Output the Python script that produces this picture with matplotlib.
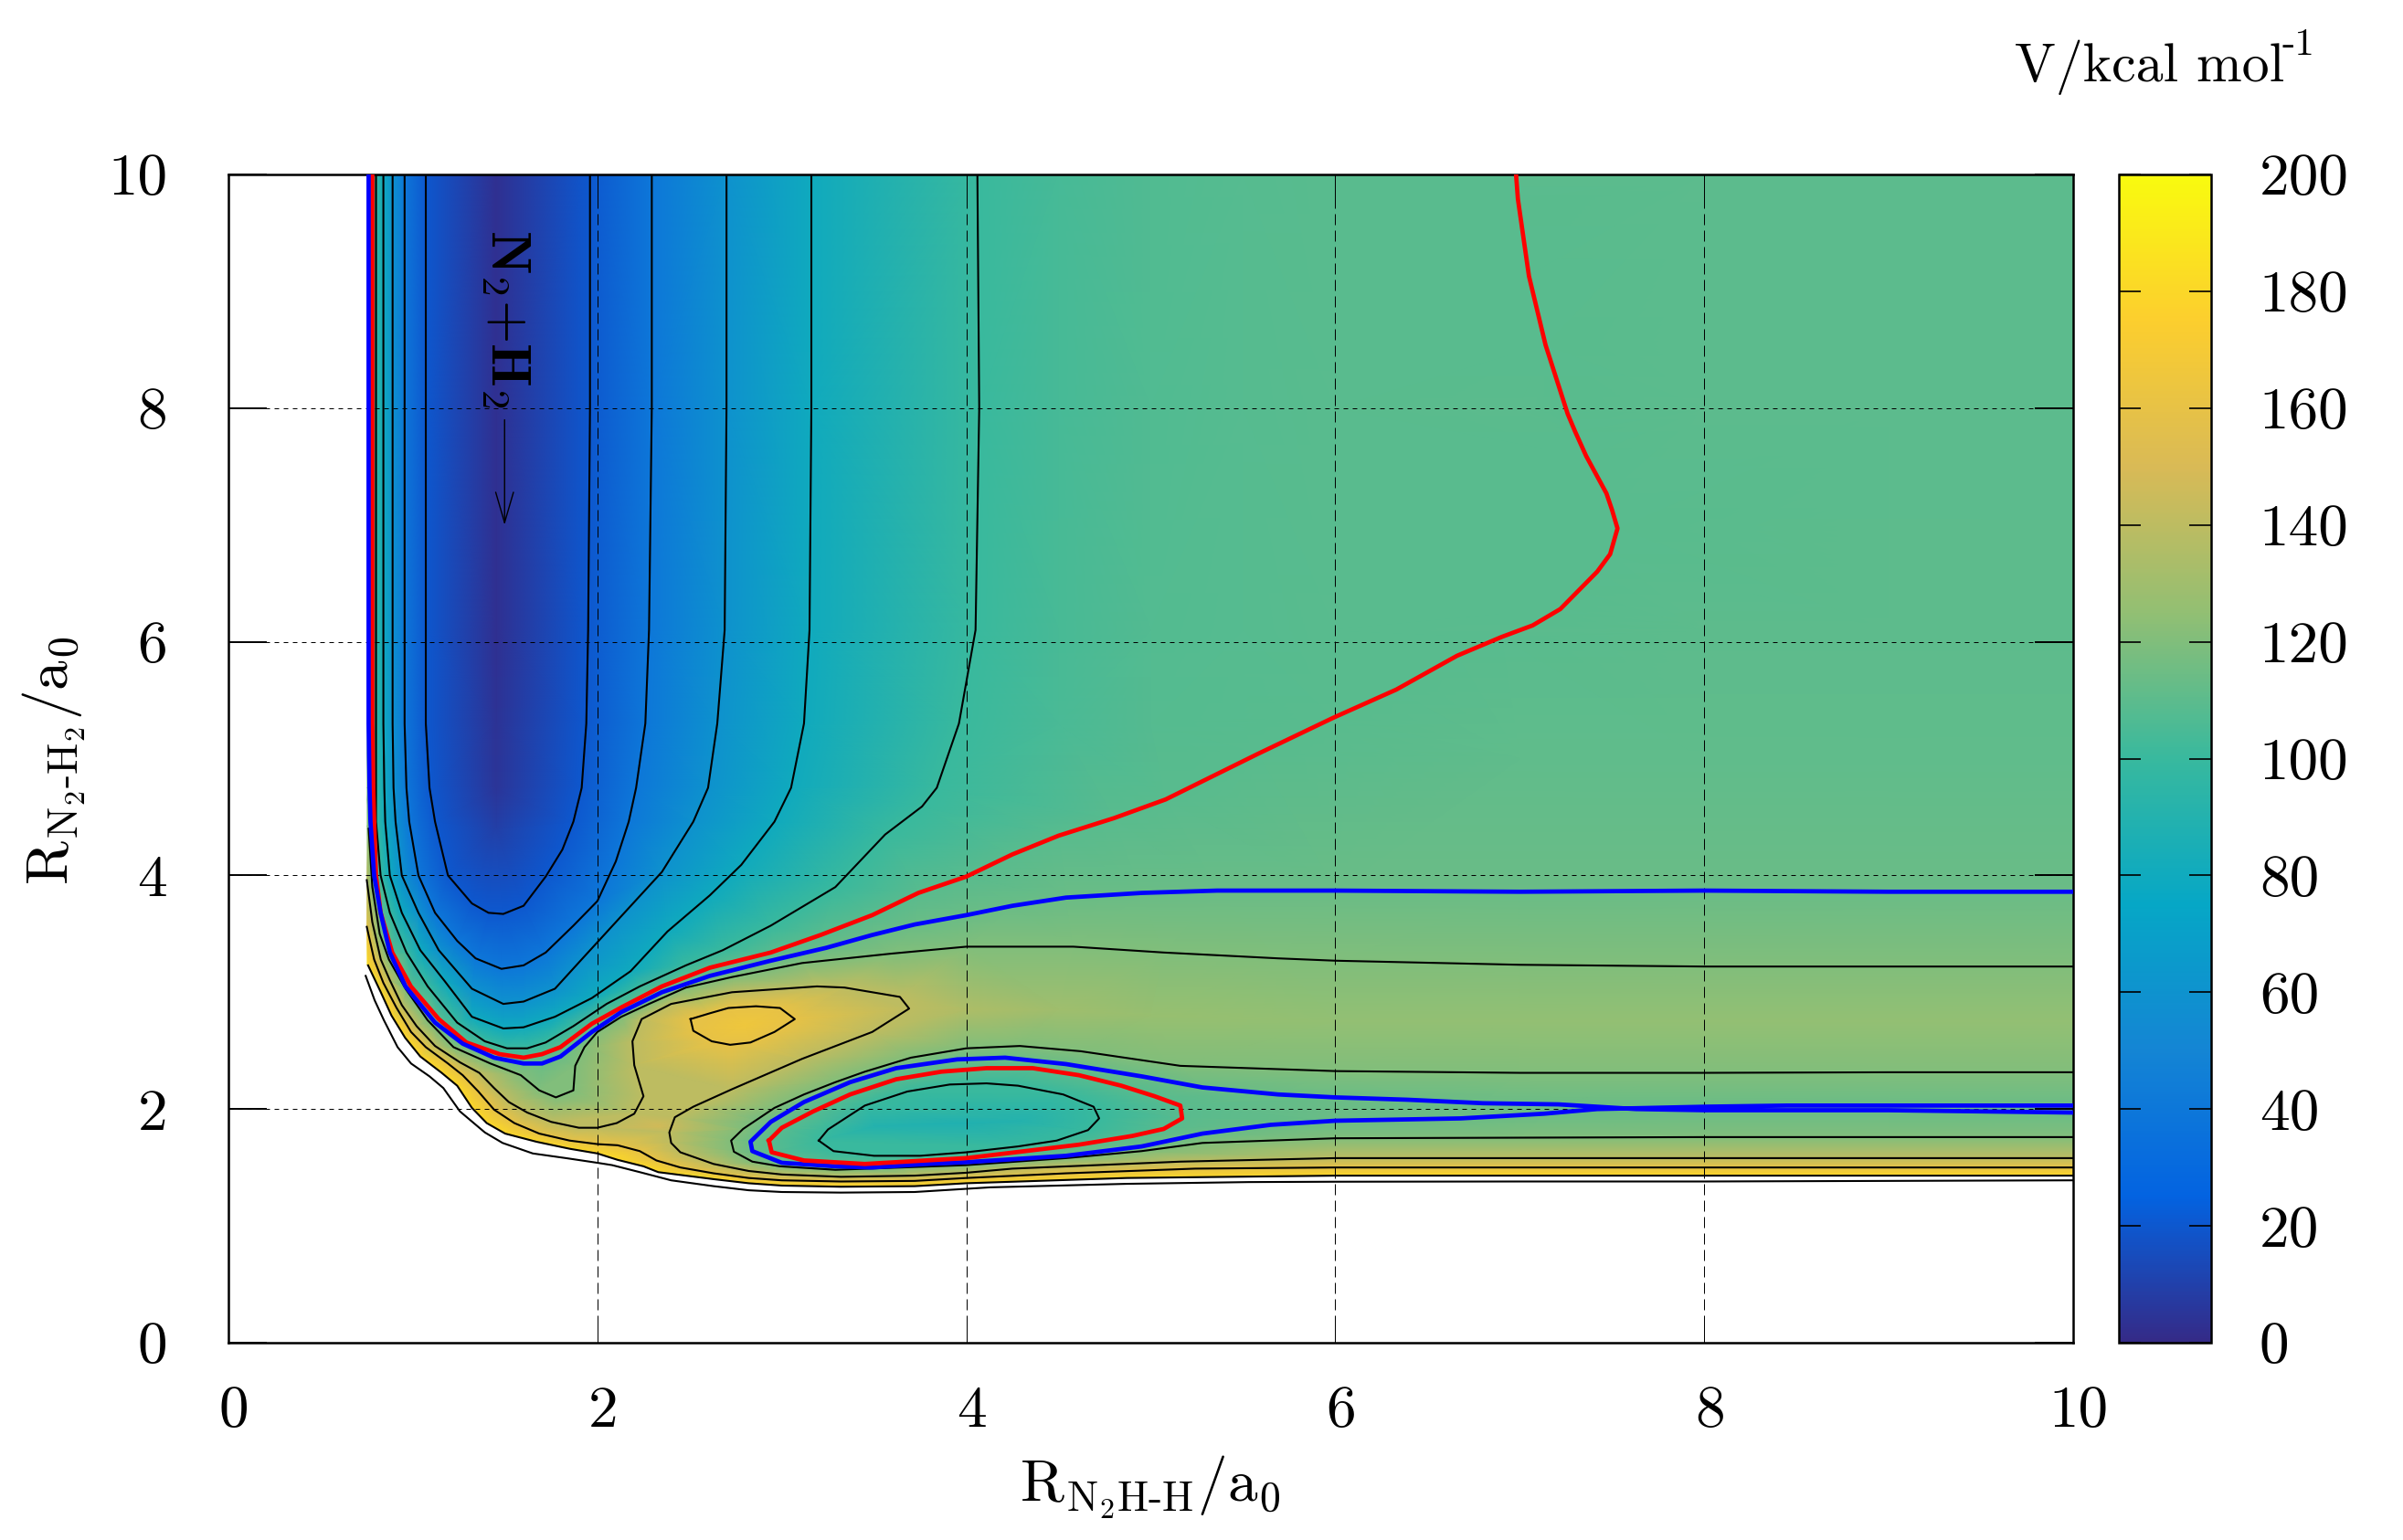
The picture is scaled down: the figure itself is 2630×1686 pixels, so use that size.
import matplotlib
matplotlib.use('Agg')
import matplotlib.pyplot as plt
import matplotlib.tri as mtri
import numpy as np
from matplotlib.colors import LinearSegmentedColormap
from matplotlib.patches import Polygon
from matplotlib.transforms import ScaledTranslation

# gnuplot parula palette
palette = ['#352a87', '#0363e1', '#1485d4', '#06a7c6', '#38b99e',
           '#92bf73', '#d9ba56', '#fcce2e', '#f9fb0e']

axis_ticks = [0, 2, 4, 6, 8, 10]
cbar_ticks = [0, 20, 40, 60, 80, 100, 120, 140, 160, 180, 200]

# contour lines, (R_N2H-H, R_N2-H2)
c20 = [(1.07, 10), (1.07, 8), (1.07, 6.1), (1.07, 5.3), (1.09, 4.75), (1.12, 4.46), (1.19, 4.0), (1.32, 3.76),
       (1.41, 3.68), (1.49, 3.67), (1.60, 3.74), (1.72, 3.99), (1.81, 4.22), (1.87, 4.46),
       (1.915, 4.75), (1.94, 5.3), (1.95, 6.1), (1.96, 8), (1.96, 10)]
c40 = [(0.955, 10), (0.955, 8), (0.955, 6.1), (0.955, 5.3), (0.965, 4.75), (0.98, 4.46), (1.03, 4.0), (1.12, 3.68),
       (1.24, 3.44), (1.34, 3.29), (1.48, 3.20), (1.60, 3.23), (1.72, 3.34), (1.87, 3.57), (2.0, 3.78), (2.10, 4.12),
       (2.17, 4.46), (2.21, 4.75), (2.26, 5.3), (2.28, 6.1), (2.295, 8), (2.295, 10)]
c60 = [(0.89, 10), (0.89, 8), (0.89, 6.1), (0.89, 5.3), (0.895, 4.75), (0.906, 4.46), (0.94, 4.0), (1.03, 3.68),
       (1.14, 3.36), (1.32, 3.03), (1.49, 2.90), (1.60, 2.92), (1.77, 3.03), (1.92, 3.29), (2.10, 3.60), (2.35, 4.03),
       (2.52, 4.46), (2.60, 4.75), (2.65, 5.3), (2.69, 6.1), (2.70, 8), (2.70, 10)]
c80 = [(0.84, 10), (0.84, 8), (0.84, 6.1), (0.84, 5.3), (0.845, 4.75), (0.85, 4.46), (0.875, 4.0), (0.94, 3.68),
       (1.04, 3.36), (1.17, 3.10), (1.32, 2.79), (1.49, 2.69), (1.60, 2.70), (1.77, 2.79), (1.97, 2.95), (2.18, 3.18),
       (2.38, 3.52), (2.61, 3.83), (2.78, 4.09), (2.96, 4.46), (3.05, 4.75), (3.12, 5.3), (3.15, 6.1), (3.16, 8), (3.16, 10)]
c100 = [(0.80, 10), (0.80, 8), (0.80, 6.1), (0.80, 5.3), (0.80, 4.75), (0.80, 4.46), (0.825, 4.0), (0.875, 3.68),
        (0.965, 3.34), (1.08, 3.05), (1.24, 2.74), (1.39, 2.58), (1.51, 2.52), (1.62, 2.52), (1.72, 2.57), (1.87, 2.71),
        (2.05, 2.90), (2.23, 3.05), (2.48, 3.23), (2.68, 3.36), (2.94, 3.57), (3.29, 3.90), (3.56, 4.35),
        (3.76, 4.59), (3.84, 4.75), (3.96, 5.3), (4.05, 6.1), (4.07, 8), (4.06, 10)]
c100_well = [(3.20, 1.73), (3.28, 1.64), (3.50, 1.60), (3.75, 1.60), (4.0, 1.63), (4.28, 1.68), (4.49, 1.73),
             (4.66, 1.82), (4.72, 1.92), (4.69, 2.02), (4.525, 2.125), (4.28, 2.20), (4.11, 2.22), (3.91, 2.21),
             (3.68, 2.15), (3.45, 2.03), (3.25, 1.825), (3.20, 1.73)]
c120 = [(0.76, 4.4), (0.78, 3.9), (0.82, 3.5), (0.87, 3.28), (0.96, 3.03), (1.08, 2.76), (1.22, 2.53),
        (1.42, 2.39), (1.585, 2.29), (1.685, 2.16), (1.775, 2.10), (1.87, 2.16), (1.88, 2.37), (1.93, 2.53),
        (2.0, 2.66), (2.13, 2.79), (2.28, 2.90), (2.48, 3.04), (2.73, 3.13), (3.11, 3.25), (3.59, 3.33),
        (4.0, 3.39), (4.58, 3.39), (5.07, 3.34), (5.69, 3.29), (6.0, 3.27), (7.0, 3.235), (8.0, 3.22), (9.0, 3.22), (10, 3.22)]
c120_low = [(10, 2.315), (9.0, 2.315), (8.0, 2.31), (7.0, 2.31), (6.0, 2.325), (5.16, 2.37), (4.62, 2.495), (4.29, 2.54),
            (4.0, 2.52), (3.70, 2.44), (3.45, 2.32), (3.29, 2.23), (3.12, 2.125), (2.96, 2.01), (2.79, 1.83), (2.725, 1.73),
            (2.74, 1.635), (2.84, 1.55), (2.99, 1.51), (3.29, 1.48), (3.65, 1.50), (4.0, 1.52), (4.54, 1.58),
            (4.95, 1.64), (5.28, 1.71), (6.0, 1.75), (7.0, 1.755), (8.0, 1.76), (9.0, 1.76), (10, 1.76)]
c140 = [(0.75, 3.96), (0.78, 3.6), (0.826, 3.28), (0.876, 3.10), (0.94, 2.89), (1.02, 2.71), (1.12, 2.54),
        (1.255, 2.40), (1.36, 2.31), (1.44, 2.18), (1.52, 2.06), (1.62, 1.97), (1.75, 1.89), (1.90, 1.84),
        (2.0, 1.84), (2.105, 1.88), (2.20, 1.96), (2.25, 2.11), (2.20, 2.375), (2.19, 2.58), (2.24, 2.77),
        (2.40, 2.90), (2.73, 3.0), (3.19, 3.05), (3.34, 3.04), (3.64, 2.96), (3.69, 2.86), (3.49, 2.66),
        (3.11, 2.43), (2.73, 2.17), (2.52, 2.02), (2.42, 1.93), (2.39, 1.80), (2.40, 1.71), (2.45, 1.63),
        (2.63, 1.53), (2.82, 1.47), (3.0, 1.44), (3.32, 1.42), (3.72, 1.43), (4.0, 1.455), (4.25, 1.49),
        (5.16, 1.55), (6.0, 1.58), (7.0, 1.58), (8.0, 1.58), (9.0, 1.58), (10, 1.58)]
c160 = [(0.75, 3.56), (0.79, 3.28), (0.84, 3.08), (0.91, 2.87), (0.99, 2.66), (1.07, 2.53), (1.19, 2.39),
        (1.27, 2.29), (1.355, 2.15), (1.44, 1.995), (1.55, 1.88), (1.685, 1.79), (1.85, 1.73), (2.0, 1.70),
        (2.11, 1.69), (2.23, 1.64), (2.32, 1.56), (2.45, 1.50), (2.63, 1.45), (2.82, 1.41), (3.0, 1.39),
        (3.32, 1.38), (3.72, 1.385), (4.0, 1.41), (4.54, 1.45), (5.24, 1.49), (6.0, 1.50), (7.0, 1.50), (8.0, 1.50),
        (9.0, 1.50), (10, 1.50)]
c160_ridge = [(2.505, 2.77), (2.52, 2.67), (2.62, 2.58), (2.72, 2.55), (2.83, 2.57), (2.96, 2.66), (3.07, 2.77),
              (2.99, 2.865), (2.86, 2.88), (2.71, 2.865), (2.61, 2.82), (2.505, 2.77)]
c180 = [(0.757, 3.23), (0.826, 3.0), (0.884, 2.80), (0.958, 2.61), (1.04, 2.45), (1.156, 2.31), (1.24, 2.20),
        (1.32, 2.01), (1.40, 1.88), (1.50, 1.79), (1.67, 1.72), (1.85, 1.66), (2.0, 1.62), (2.11, 1.565),
        (2.25, 1.51), (2.33, 1.46), (2.63, 1.40), (2.82, 1.365), (3.0, 1.345), (3.32, 1.335), (3.72, 1.34),
        (4.0, 1.365), (4.87, 1.41), (6.0, 1.43), (7.0, 1.43), (8.0, 1.43), (9.0, 1.43), (10, 1.43)]
c200 = [(0.744, 3.14), (0.793, 2.93), (0.843, 2.76), (0.917, 2.53), (0.99, 2.39), (1.09, 2.28), (1.165, 2.18),
        (1.255, 1.98), (1.39, 1.80), (1.486, 1.71), (1.65, 1.62), (1.83, 1.58), (2.0, 1.54), (2.08, 1.52),
        (2.23, 1.46), (2.40, 1.39), (2.63, 1.34), (2.82, 1.305), (3.0, 1.29), (3.32, 1.285), (3.72, 1.29),
        (4.13, 1.33), (4.87, 1.36), (5.53, 1.375), (6.0, 1.378), (7.0, 1.38), (8.0, 1.38), (9.0, 1.385), (10, 1.39)]

red_long = [(0.78, 10), (0.78, 8), (0.78, 6.1), (0.78, 5.3), (0.785, 4.75), (0.79, 4.46), (0.80, 4.0), (0.825, 3.68),
            (0.888, 3.34), (0.989, 3.05), (1.14, 2.77), (1.29, 2.57), (1.47, 2.47), (1.60, 2.44), (1.70, 2.47), (1.80, 2.53),
            (1.97, 2.73), (2.13, 2.87), (2.35, 3.05), (2.61, 3.21), (2.94, 3.34), (3.21, 3.49), (3.49, 3.66),
            (3.74, 3.85), (4.0, 3.99), (4.25, 4.18), (4.5, 4.34), (4.8, 4.49), (5.08, 4.65), (5.58, 5.04), (5.99, 5.35),
            (6.33, 5.59), (6.66, 5.88), (6.9, 6.04), (7.07, 6.14), (7.22, 6.28), (7.32, 6.44), (7.42, 6.6), (7.49, 6.75),
            (7.53, 6.97), (7.5, 7.13), (7.47, 7.27), (7.36, 7.59), (7.3, 7.8), (7.26, 7.95), (7.14, 8.54), (7.05, 9.13),
            (6.99, 9.79), (6.98, 10)]
red_well = [(2.93, 1.73), (2.945, 1.63), (3.12, 1.56), (3.45, 1.53), (4.0, 1.58), (4.61, 1.695), (4.90, 1.77),
            (5.07, 1.83), (5.17, 1.92), (5.16, 2.03), (5.02, 2.11), (4.84, 2.20), (4.61, 2.29), (4.36, 2.35),
            (4.11, 2.35), (3.865, 2.32), (3.62, 2.255), (3.37, 2.125), (3.17, 1.98), (3.0, 1.84), (2.93, 1.73)]
blue_long = [(0.76, 10), (0.76, 8), (0.76, 6.1), (0.76, 5.3), (0.765, 4.75), (0.77, 4.46), (0.79, 4.0), (0.825, 3.68),
             (0.875, 3.34), (0.96, 3.05), (1.12, 2.74), (1.27, 2.56), (1.44, 2.44), (1.60, 2.39), (1.70, 2.39), (1.80, 2.45),
             (1.97, 2.66), (2.13, 2.83), (2.35, 3.0), (2.61, 3.14), (2.94, 3.27), (3.24, 3.38), (3.49, 3.49),
             (3.72, 3.58), (4.0, 3.66), (4.25, 3.74), (4.54, 3.81), (4.95, 3.85), (5.36, 3.87), (6.0, 3.87),
             (7.0, 3.86), (8.0, 3.87), (9.0, 3.86), (10, 3.86)]
blue_well = [(10, 1.97), (9.0, 1.99), (8.45, 1.99), (8.0, 1.99), (7.63, 2.0), (7.21, 2.04), (6.80, 2.05),
             (6.39, 2.08), (6.0, 2.10), (5.69, 2.125), (5.28, 2.185), (4.95, 2.28), (4.54, 2.385), (4.21, 2.44), (3.95, 2.425),
             (3.62, 2.35), (3.37, 2.23), (3.12, 2.06), (2.94, 1.89), (2.83, 1.72), (2.84, 1.64), (3.0, 1.54),
             (3.29, 1.51), (3.49, 1.50), (3.78, 1.53), (4.0, 1.545), (4.54, 1.60), (4.95, 1.68), (5.28, 1.79),
             (5.65, 1.865), (6.0, 1.90), (6.68, 1.92), (7.13, 1.96), (7.42, 2.0), (8.0, 2.02), (8.45, 2.03),
             (9.0, 2.03), (10, 2.03)]

black_lines = [c20, c40, c60, c80, c100, c100_well, c120, c120_low, c140, c160, c160_ridge, c180, c200]
black_levels = [20, 40, 60, 80, 100, 100, 120, 120, 140, 160, 160, 180, 200]
red_level = 109
blue_level = 114

# extra readings of V between the lines (from the colours)
extra_x = [1.45, 1.45, 1.45, 1.45, 1.45, 1.45,
           0.74, 0.74, 0.74, 0.74, 0.74, 0.74,
           4.5, 4.5, 4.5, 4.5, 5, 5, 5, 5, 5.5, 5.5, 5.5, 6, 6, 6,
           7, 7, 7, 7, 8, 8, 8, 8, 9, 9, 9, 9, 10, 10, 10, 10,
           2.8, 4, 4.5, 5, 6, 7, 8, 9, 10,
           2.33, 3.5, 4, 4.3, 0.74, 10]
extra_y = [10, 8, 6.1, 5.3, 4.75, 4.4,
           10, 8, 6.1, 5.3, 4.75, 4.4,
           10, 8, 6.1, 5.3, 10, 8, 6.1, 5.3, 10, 8, 6.1, 10, 8, 6.1,
           10, 8, 6.1, 5, 10, 8, 6.1, 5, 10, 8, 6.1, 5, 10, 8, 6.1, 5,
           2.72, 2.85, 2.85, 2.8, 2.75, 2.75, 2.75, 2.75, 2.75,
           1.85, 1.85, 1.88, 1.9, 1.2, 1.2]
extra_v = [3, 3, 3, 4, 5, 9,
           120, 120, 120, 120, 122, 125,
           104, 104, 104.5, 105, 107, 107, 107.5, 108, 108.5, 108.5, 108.5, 109, 109, 109,
           110, 110, 109.5, 111, 110, 110, 110.5, 111, 110, 110, 110.5, 111, 110, 110, 110.5, 111,
           166, 135, 130, 127, 125, 125, 125, 125, 125,
           148, 90, 88, 90, 200, 200]

plt.rcParams['font.family'] = ['cmr10', 'DejaVu Serif']
plt.rcParams['mathtext.fontset'] = 'cm'
plt.rcParams['axes.formatter.use_mathtext'] = True
plt.rcParams['font.size'] = 47

W, H = 2630, 1686
fig = plt.figure(figsize=(W / 100, H / 100), dpi=100)
ax = fig.add_axes([250 / W, 1 - 1470 / H, 2019 / W, 1279 / H])
cax = fig.add_axes([2319 / W, 1 - 1470 / H, 101 / W, 1279 / H])

# field is spanned by the traced lines and the extra readings
points = {}
for line, level in zip(black_lines + [red_long, red_well, blue_long, blue_well],
                       black_levels + [red_level, red_level, blue_level, blue_level]):
    for p in line:
        points[p] = level
for px, py, pv in zip(extra_x, extra_y, extra_v):
    points[(px, py)] = pv
fx = np.array([p[0] for p in points])
fy = np.array([p[1] for p in points])
fv = np.array(list(points.values()), dtype=float)

# triangles from log space, otherwise the flat bands get long thin ones
triangles = mtri.Triangulation(np.log(fx), np.log(fy - 1)).triangles
tri = mtri.Triangulation(fx, fy, triangles)

cmap = LinearSegmentedColormap.from_list('parula_gp', palette, N=512)
mesh = ax.tripcolor(tri, fv, shading='gouraud', cmap=cmap, vmin=0, vmax=200, zorder=1)
# white above about 180
outline = [(0.75, 10), (10, 10)] + c180[::-1] + [(0.75, 3.23)]
mesh.set_clip_path(Polygon(outline, transform=ax.transData))

for line in black_lines:
    xs, ys = zip(*line)
    ax.plot(xs, ys, color='black', lw=1.5, solid_joinstyle='round', zorder=2)
xs, ys = zip(*red_long)
ax.plot(xs, ys, color='#ff0000', lw=3.4, zorder=3)
for line in [blue_long, blue_well]:
    xs, ys = zip(*line)
    ax.plot(xs, ys, color='#0000ff', lw=3.4, zorder=3)
# red stays on top in the well, blue on the left wall
xs, ys = zip(*red_well)
ax.plot(xs, ys, color='#ff0000', lw=3.4, zorder=4)

ax.set_xlim(0, 10)
ax.set_ylim(0, 10)
ax.set_xticks(axis_ticks)
ax.set_yticks(axis_ticks)
ax.set_xticklabels([str(t) for t in axis_ticks])
ax.set_yticklabels([str(t) for t in axis_ticks])
ax.tick_params(axis='x', direction='in', top=True, length=19.5, width=0.72, pad=34)
ax.tick_params(axis='y', direction='in', right=True, length=30, width=1.4, pad=48)
ax.xaxis.grid(True, color='black', lw=0.72, linestyle=(0, (12, 6)))
ax.yaxis.grid(True, color='black', lw=0.72, linestyle=(0, (5, 5)))
for t in ax.get_xticklabels():
    t.set_transform(t.get_transform() + ScaledTranslation(6 / 100, 0, fig.dpi_scale_trans))
for s in ax.spines.values():
    s.set_linewidth(1.8)

cb = fig.colorbar(mesh, cax=cax)
cb.set_ticks(cbar_ticks)
cb.set_ticklabels([str(t) for t in cbar_ticks])
cax.tick_params(direction='in', left=True, right=True, length=17, width=1.2, pad=38)
cb.outline.set_linewidth(1.8)

ax.annotate('', xy=(1.497, 7.0), xytext=(1.497, 7.9),
            arrowprops=dict(arrowstyle='->,head_length=2.4,head_width=0.7', mutation_scale=10,
                            color='black', lw=1.0, shrinkA=0, shrinkB=0))
ax.text(1.50, 8.77, r'$\mathbf{N_{2}{+}H_{2}}$', rotation=270, ha='center', va='center', fontsize=44, zorder=5)

fig.text(1259 / W, 1 - 1628 / H, r'$\mathrm{R_{N_{2}H\text{-}H}/a_{0}}$', ha='center', va='center')
fig.text(59 / W, 1 - 833 / H, r'$\mathrm{R_{N_{2}\text{-}H_{2}}/a_{0}}$', ha='center', va='center', rotation=90)
fig.text(2205 / W, 1 - 89 / H, 'V/kcal mol', ha='left', va='baseline', fontsize=43)
fig.text(2498 / W, 1 - 60 / H, '-1', ha='left', va='baseline', fontsize=31)

fig.savefig('out.png', dpi=100)
